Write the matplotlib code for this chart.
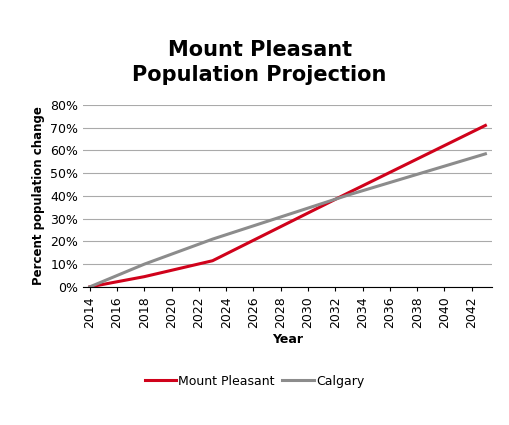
import matplotlib
matplotlib.use("Agg")
import matplotlib.pyplot as plt
from matplotlib.ticker import PercentFormatter

years_mp = [2014, 2018, 2023, 2033, 2043]
mount_pleasant = [0, 4.5, 11.5, 41.5, 71]
years_cal = [2014, 2018, 2023, 2033, 2043]
calgary = [0, 10, 21, 40.5, 58.5]
xticks = list(range(2014, 2043, 2))

fig = plt.figure(figsize=(5.09, 4.25), dpi=100)
ax = fig.add_axes([0.163, 0.325, 0.804, 0.428])
ax.plot(years_mp, mount_pleasant, color="#d0021b", lw=2.2, label="Mount Pleasant")
ax.plot(years_cal, calgary, color="#8c8c8c", lw=2.2, label="Calgary")
ax.set_xlim(2013.5, 2043.5)
ax.set_ylim(0, 80)
ax.set_yticks(range(0, 81, 10))
ax.yaxis.set_major_formatter(PercentFormatter(decimals=0))
ax.set_xticks(xticks)
ax.set_xticklabels([str(x) for x in xticks], rotation=90)
ax.tick_params(labelsize=9, length=3)
ax.grid(axis="y", color="#aaaaaa", lw=0.8)
ax.set_axisbelow(True)
for s in ["top", "right", "left"]:
    ax.spines[s].set_visible(False)
ax.tick_params(axis="y", length=0)
ax.set_xlabel("Year", fontweight="bold", fontsize=9)
ax.set_ylabel("Percent population change", fontweight="bold", fontsize=8.5)
fig.text(0.51, 0.853, "Mount Pleasant\nPopulation Projection", ha="center",
         va="center", fontsize=15, fontweight="bold", linespacing=1.3)
fig.legend(loc="center", bbox_to_anchor=(0.5, 0.103), ncol=2, frameon=False,
           fontsize=9, handlelength=2.5, columnspacing=0.6, handletextpad=0.2)
fig.savefig("out.png", dpi=100)
